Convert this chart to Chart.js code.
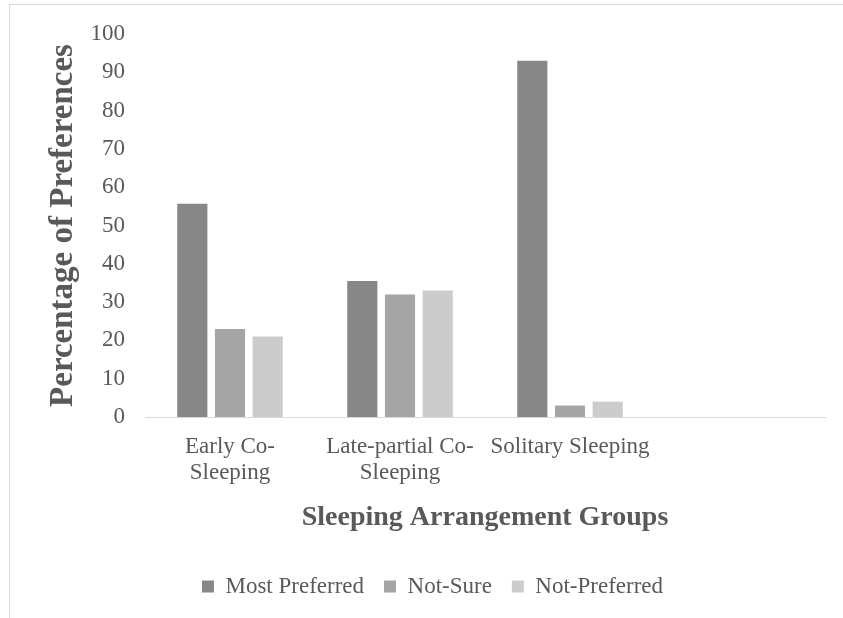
<!DOCTYPE html>
<html>
<head>
<meta charset="utf-8">
<script src="https://cdn.jsdelivr.net/npm/chart.js@4"></script>
<style>
  body { margin: 0; background: #fff; }
  #wrap { position: relative; width: 843px; height: 618px; }
  #frame { position: absolute; left: 9px; top: 4px; width: 850px; height: 630px; border: 1px solid #d9d9d9; }
  canvas { position: absolute; left: 0; top: 0; }
</style>
</head>
<body>
<div id="wrap">
  <div id="frame"></div>
  <canvas id="myChart" width="843" height="618"></canvas>
</div>
<script>
// categories (last one is an empty slot, as in the original sheet)
const groups = [['Early Co-', 'Sleeping'], ['Late-partial Co-', 'Sleeping'], 'Solitary Sleeping', ''];
const mostPreferred = [55.7, 35.5, 93, null];
const notSure = [23, 32, 3, null];
const notPreferred = [21, 33, 4, null];
const yTicks = [0, 10, 20, 30, 40, 50, 60, 70, 80, 90, 100];

const serif = "'Times New Roman', 'Liberation Serif', serif";
const textColor = '#595959';

const data = {
    labels: groups,
    datasets: [
        { label: 'Most Preferred', data: mostPreferred, backgroundColor: '#878787' },
        { label: 'Not-Sure', data: notSure, backgroundColor: '#a5a5a5' },
        { label: 'Not-Preferred', data: notPreferred, backgroundColor: '#cccccc' }
    ]
};

const config = {
    type: 'bar',
    data: data,
    options: {
        responsive: false,
        animation: false,
        categoryPercentage: 0.665,
        barPercentage: 0.8,
        layout: { padding: { left: 40, right: 18, top: 34, bottom: 10 } },
        plugins: {
            tooltip: { enabled: false },
            legend: {
                position: 'bottom',
                labels: {
                    boxWidth: 12,
                    boxHeight: 12,
                    padding: 20,
                    color: textColor,
                    font: { family: serif, size: 23 }
                }
            }
        },
        scales: {
            x: {
                grid: { display: false },
                border: { display: true, color: '#d9d9d9', width: 1 },
                ticks: {
                    color: textColor,
                    padding: 8,
                    maxRotation: 0,
                    autoSkip: false,
                    font: { family: serif, size: 23, lineHeight: 1.17 }
                },
                title: {
                    display: true,
                    text: 'Sleeping Arrangement Groups',
                    color: textColor,
                    padding: { top: 12, bottom: 20 },
                    font: { family: serif, size: 28, weight: 'bold' }
                },
                afterFit(scale) { scale.height = 138; }
            },
            y: {
                min: 0,
                max: 100,
                grid: { display: false, drawTicks: false },
                border: { display: false },
                afterBuildTicks(scale) { scale.ticks = yTicks.map(v => ({ value: v })); },
                ticks: {
                    color: textColor,
                    padding: 20,
                    font: { family: serif, size: 23 }
                },
                title: {
                    display: true,
                    text: 'Percentage of Preferences',
                    color: textColor,
                    padding: { top: 4, bottom: 0 },
                    font: { family: serif, size: 33, weight: 'bold' }
                },
                afterFit(scale) { scale.width = 105; }
            }
        }
    }
};

const myChart = new Chart(document.getElementById('myChart'), config);
</script>
</body>
</html>
